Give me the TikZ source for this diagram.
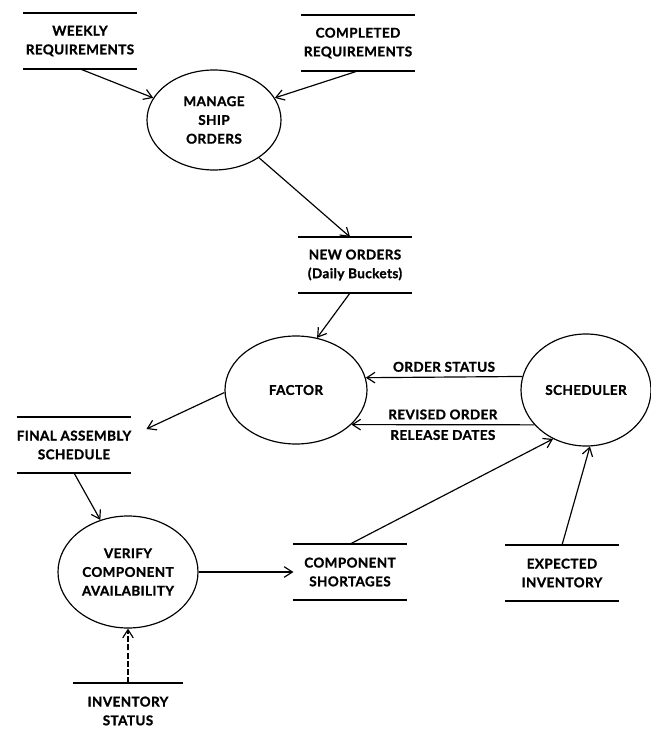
\documentclass[tikz,border=0pt]{standalone}
\usepackage{fontspec}
\setsansfont{Lato}[LetterSpace=3, BoldFeatures={FakeBold=1.2}]
\usepackage{tikz}
\usetikzlibrary{arrows.meta,positioning,calc,shapes.geometric}
\tikzset{>={Straight Barb[length=7pt,width=9pt]}}
\tikzstyle{process}=[ellipse,draw,line width=1pt,inner sep=0,align=center]
\tikzset{
	store/.style={
		minimum width=3.38cm, minimum height=1.66cm, inner sep=0, align=center,
		append after command={
			(\tikzlastnode.north west) edge[line width=1.1pt] (\tikzlastnode.north east)
			(\tikzlastnode.south west) edge[line width=1.1pt] (\tikzlastnode.south east)
		}
	},
	storetop/.style={
		minimum width=3.3cm, minimum height=1.66cm, inner sep=0, align=center,
		append after command={
			(\tikzlastnode.north west) edge[line width=1.1pt] (\tikzlastnode.north east)
		}
	},
	flow/.style={draw,->,line width=1pt},
	lbl/.style={inner sep=4pt}
}

\begin{document}
\begin{tikzpicture}[x=0.03cm, y=-0.03cm,
	font=\sffamily\bfseries\fontsize{11.5}{16}\selectfont]
	\useasboundingbox (0,0) rectangle (651,735);
	% Define the processes
	\node [process, minimum width=4.02cm, minimum height=3cm] (manage) at (214,120) {MANAGE\\SHIP\\ORDERS};
	\node [process, minimum width=4.26cm, minimum height=3.24cm] (factor) at (296,390) {FACTOR};
	\node [process, minimum width=3.9cm, minimum height=3.36cm] (scheduler) at (586,390) {SCHEDULER};
	\node [process, minimum width=4.2cm, minimum height=3.36cm] (verify) at (128,572) {VERIFY\\COMPONENT\\AVAILABILITY};
	% Define the data stores
	\node [store] (weekly) at (80,41) {WEEKLY\\REQUIREMENTS};
	\node [store] (completed) at (358,43) {COMPLETED\\REQUIREMENTS};
	\node [store] (neworders) at (355,265) {NEW ORDERS\\(Daily Buckets)};
	\node [store] (final) at (74,445) {FINAL ASSEMBLY\\SCHEDULE};
	\node [store] (shortages) at (350,572) {COMPONENT\\SHORTAGES};
	\node [store] (expected) at (562,573) {EXPECTED\\INVENTORY};
	\node [storetop] (inventory) at (128,711) {INVENTORY\\STATUS};
	\coordinate (finalin) at ($(final.east)+(15,-16)$);
	% Data flows
	\draw[flow] (weekly.south) -- (manage.160);
	\draw[flow] (completed.south) -- (manage.20);
	\draw[flow] (manage.-40) -- (neworders.100);
	\draw[flow] (neworders.-100) -- (factor.68);
	\draw[flow] (scheduler.168.4) -- (factor.10.7)
		node[lbl, midway, above] (ostatus) {ORDER STATUS};
	\draw[flow] (scheduler.214.6) -- (factor.-32.9)
		node[lbl, midway, above] (revised) {REVISED ORDER}
		node[lbl, midway, below] (release) {RELEASE DATES};
	\draw[flow] (factor.182) -- (finalin);
	\draw[flow] (final.south) -- (verify.118.7);
	\draw[flow] (verify) -- (shortages);
	\draw[flow] (shortages.north) -- (scheduler.236.8);
	\draw[flow] (expected.north) -- (scheduler.-86);
	\draw[flow, dash pattern=on 5pt off 2pt] (inventory.north) -- (verify.south);
\end{tikzpicture}
\end{document}
